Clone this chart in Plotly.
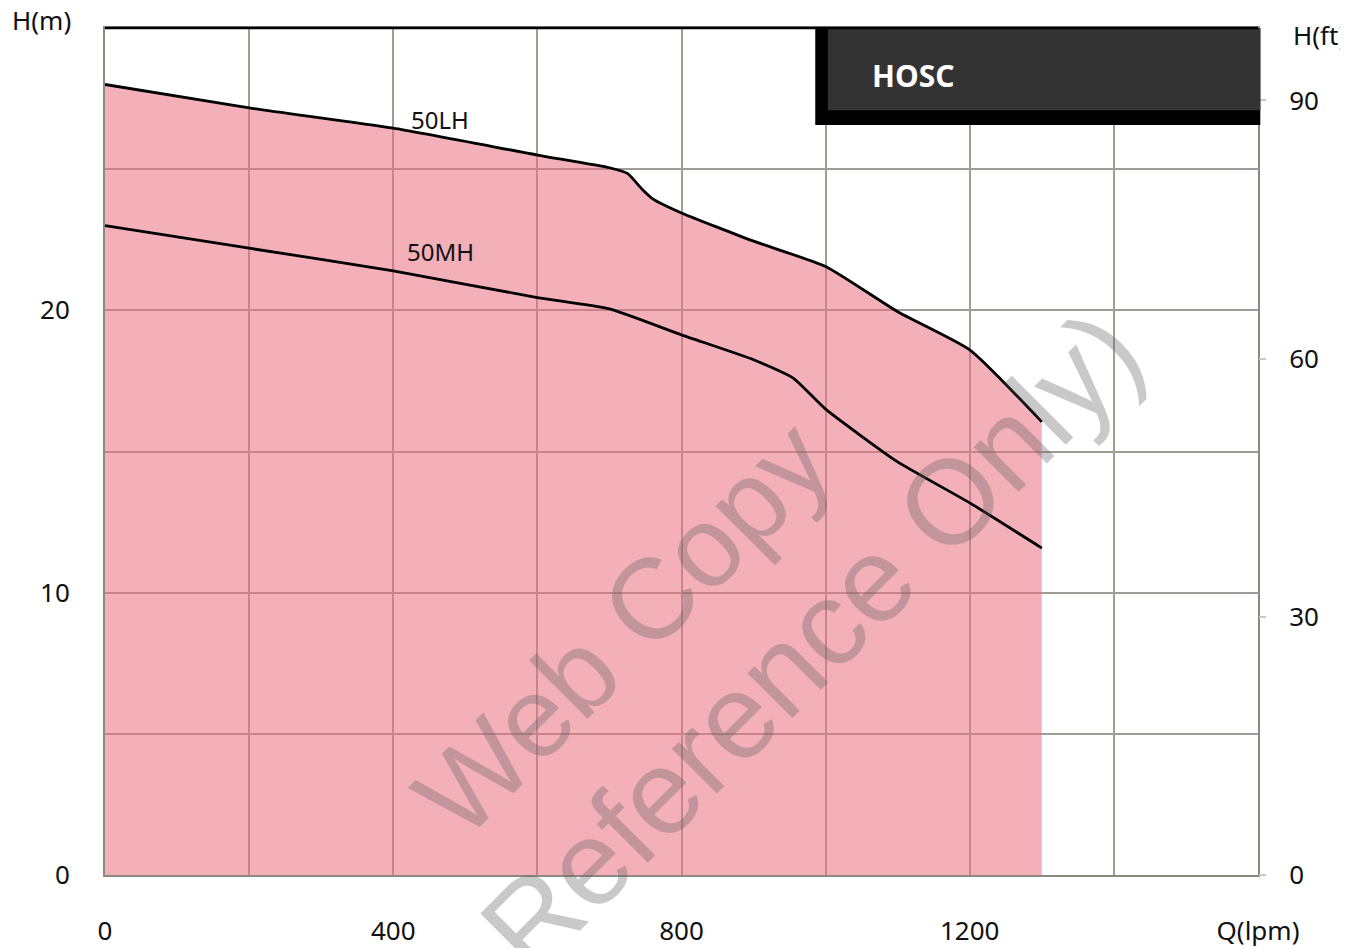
import plotly.graph_objects as go

# --- data ---
Q_50LH = [0, 200, 400, 600, 700, 725, 745, 760, 800, 900, 1000, 1100, 1200, 1300]
H_50LH = [28.0, 27.17, 26.45, 25.5, 25.05, 24.85, 24.3, 23.95, 23.45, 22.45, 21.55, 19.95, 18.6, 16.05]

Q_50MH = [0, 200, 400, 600, 700, 800, 900, 955, 1000, 1100, 1200, 1300]
H_50MH = [23.0, 22.2, 21.4, 20.45, 20.05, 19.13, 18.25, 17.6, 16.5, 14.63, 13.18, 11.58]

X_TICKS = [0, 200, 400, 600, 800, 1000, 1200, 1400, 1600]
X_LABELS = ["0", "", "400", "", "800", "", "1200", "", "Q(lpm)"]
Y_TICKS = [0, 5, 10, 15, 20, 25, 30]
Y_LABELS = ["0", "", "10", "", "20", "", ""]
FT_TICKS = [0, 30, 60, 90]
M_TO_FT = 3.2808

FONT = "Noto Sans"
TEXT = "#111111"
GRID = "#a09d97"
WATERMARK = "rgba(100,100,100,0.35)"

fig = go.Figure()

# pink operating range under the upper curve
fig.add_trace(go.Scatter(
    x=Q_50LH, y=H_50LH, mode="lines", fill="tozeroy",
    fillcolor="rgba(234,112,126,0.55)",
    line=dict(color="black", width=2.8, shape="spline", smoothing=0.5),
    showlegend=False, hoverinfo="skip",
))
fig.add_trace(go.Scatter(
    x=Q_50MH, y=H_50MH, mode="lines",
    line=dict(color="black", width=2.8, shape="spline", smoothing=0.5),
    showlegend=False, hoverinfo="skip",
))
# dummy trace so the feet axis gets drawn
fig.add_trace(go.Scatter(x=[None], y=[None], yaxis="y2", showlegend=False))

# curve labels
fig.add_annotation(x=465, y=26.75, text="50LH", showarrow=False,
                   font=dict(family=FONT, size=24, color=TEXT))
fig.add_annotation(x=465, y=22.1, text="50MH", showarrow=False,
                   font=dict(family=FONT, size=24, color=TEXT))

# axis unit labels
fig.add_annotation(xref="paper", yref="paper", x=-0.055, y=1.01,
                   xanchor="center", yanchor="middle",
                   text="H(m)", showarrow=False,
                   font=dict(family=FONT, size=26, color=TEXT))
fig.add_annotation(xref="paper", yref="paper", x=1.029, y=0.992, xanchor="left",
                   yanchor="middle", text="H(ft)", showarrow=False,
                   font=dict(family=FONT, size=26, color=TEXT))

# HOSC header box
fig.add_shape(type="rect", xref="paper", yref="paper", x0=0.616, x1=1.002,
              y0=0.8855, y1=1.0, fillcolor="black", line_width=0, layer="above")
fig.add_shape(type="rect", xref="paper", yref="paper", x0=0.627, x1=1.002,
              y0=0.903, y1=1.0, fillcolor="#333333", line_width=0, layer="above")
fig.add_annotation(xref="paper", yref="paper", x=0.6635, y=0.9445, xanchor="left",
                   yanchor="middle", text="<b>HOSC</b>", showarrow=False,
                   font=dict(family=FONT, size=30, color="white"))

# black top border
fig.add_shape(type="line", xref="paper", yref="paper", x0=0, x1=1, y0=1, y1=1,
              line=dict(color="black", width=2.5), layer="above")

# watermark
fig.add_annotation(xref="paper", yref="paper", x=(622 - 105) / 1153, y=(875 - 628) / 847,
                   xanchor="center", yanchor="middle",
                   text="Web Copy", showarrow=False, textangle=-45,
                   font=dict(family="Liberation Sans", size=114, color=WATERMARK))
fig.add_annotation(xref="paper", yref="paper", x=(811 - 105) / 1153, y=(875 - 640) / 847,
                   xanchor="center", yanchor="middle",
                   text="Reference Only)", showarrow=False, textangle=-45,
                   font=dict(family="Liberation Sans", size=120, color=WATERMARK))

# page body adds ~8px offset, so the figure is a bit smaller than the window
fig.update_layout(
    width=1340, height=940,
    margin=dict(l=97, r=90, t=20, b=73),
    plot_bgcolor="white", paper_bgcolor="white",
    font=dict(family=FONT, size=26, color=TEXT),
    xaxis=dict(
        range=[0, 1600], tickvals=X_TICKS, ticktext=X_LABELS,
        showgrid=True, gridcolor=GRID, gridwidth=2,
        showline=True, linecolor="#8c8882", linewidth=2, mirror=True,
        ticks="", ticklabelstandoff=32, zeroline=False, automargin=False,
    ),
    yaxis=dict(
        range=[0, 30], tickvals=Y_TICKS, ticktext=Y_LABELS,
        showgrid=True, gridcolor=GRID, gridwidth=2,
        showline=True, linecolor="#8c8882", linewidth=2, mirror=True,
        ticks="", ticklabelstandoff=28, zeroline=False, automargin=False,
    ),
    yaxis2=dict(
        overlaying="y", side="right", range=[0, 30 * M_TO_FT],
        tickvals=FT_TICKS, showgrid=False, zeroline=False, showline=False,
        ticks="outside", ticklen=7, tickcolor="#c8c8c8", tickwidth=2,
        ticklabelstandoff=18, automargin=False,
    ),
)

fig.write_html("out.html")
